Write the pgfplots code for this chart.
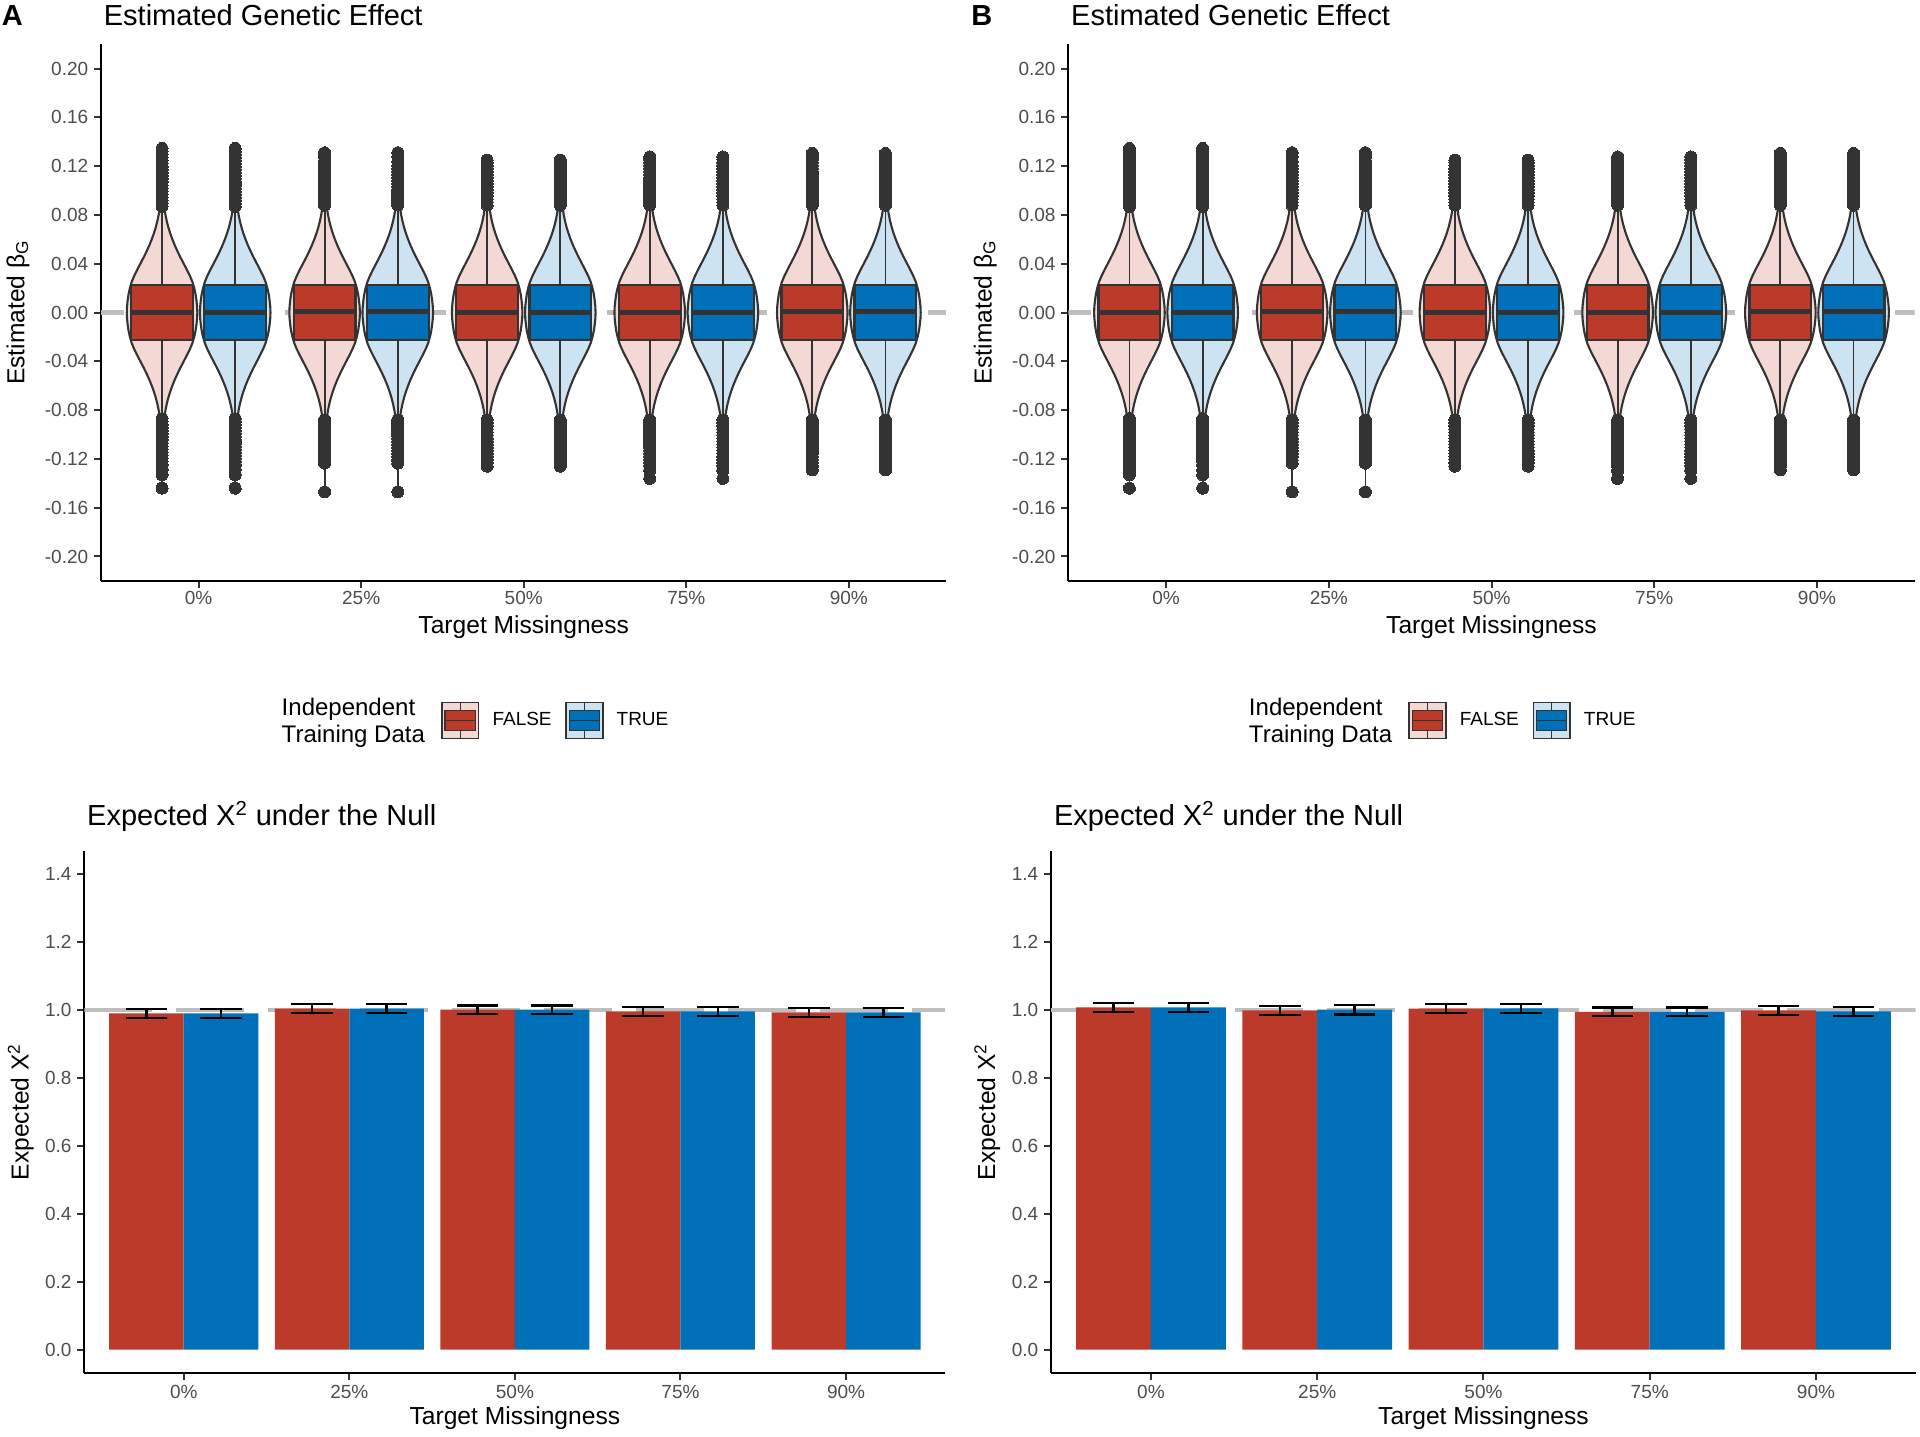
\documentclass[border=0pt]{standalone}
\usepackage{fontspec}
\setmainfont{Liberation Sans}
\usepackage{pgfplots}
\pgfplotsset{compat=1.18}
\usepackage{pgfplotstable}

\definecolor{cred}{RGB}{188,58,42}
\definecolor{cblue}{RGB}{0,112,184}
\definecolor{lred}{RGB}{243,216,212}
\definecolor{lblue}{RGB}{206,227,242}
\definecolor{c333}{RGB}{51,51,51}
\definecolor{c4d}{RGB}{77,77,77}
\definecolor{cgrey}{RGB}{190,190,190}

% violin outline (shared shape): y, signed relative half-width
\pgfplotstableread{
y w
-0.125 0.000
-0.120 0.002
-0.115 0.005
-0.110 0.008
-0.105 0.013
-0.100 0.020
-0.095 0.031
-0.090 0.047
-0.085 0.069
-0.080 0.097
-0.075 0.133
-0.070 0.177
-0.065 0.230
-0.060 0.292
-0.055 0.362
-0.050 0.440
-0.045 0.525
-0.040 0.615
-0.035 0.705
-0.030 0.790
-0.025 0.862
-0.020 0.912
-0.015 0.950
-0.010 0.975
-0.005 0.993
0.000 1.000
0.005 0.993
0.010 0.975
0.015 0.950
0.020 0.912
0.025 0.862
0.030 0.790
0.035 0.705
0.040 0.615
0.045 0.525
0.050 0.440
0.055 0.362
0.060 0.292
0.065 0.230
0.070 0.177
0.075 0.133
0.080 0.097
0.085 0.069
0.090 0.047
0.095 0.031
0.100 0.020
0.105 0.013
0.110 0.008
0.115 0.005
0.120 0.002
0.125 0.000
0.120 -0.002
0.115 -0.005
0.110 -0.008
0.105 -0.013
0.100 -0.020
0.095 -0.031
0.090 -0.047
0.085 -0.069
0.080 -0.097
0.075 -0.133
0.070 -0.177
0.065 -0.230
0.060 -0.292
0.055 -0.362
0.050 -0.440
0.045 -0.525
0.040 -0.615
0.035 -0.705
0.030 -0.790
0.025 -0.862
0.020 -0.912
0.015 -0.950
0.010 -0.975
0.005 -0.993
0.000 -1.000
-0.005 -0.993
-0.010 -0.975
-0.015 -0.950
-0.020 -0.912
-0.025 -0.862
-0.030 -0.790
-0.035 -0.705
-0.040 -0.615
-0.045 -0.525
-0.050 -0.440
-0.055 -0.362
-0.060 -0.292
-0.065 -0.230
-0.070 -0.177
-0.075 -0.133
-0.080 -0.097
-0.085 -0.069
-0.090 -0.047
-0.095 -0.031
-0.100 -0.020
-0.105 -0.013
-0.110 -0.008
-0.115 -0.005
-0.120 -0.002
-0.125 0.000
}\violin

% box outline: relative x, y (quartiles)
\pgfplotstableread{
dx y
-1 -0.0225
1 -0.0225
1 0.0225
-1 0.0225
-1 -0.0225
}\boxtab
\pgfplotstableread{
dx y
-1 0
1 0
}\medtab

% outliers per group
\pgfplotstableread{
y
0.0870
0.0895
0.0920
0.0945
0.0970
0.0995
0.1020
0.1045
0.1070
0.1095
0.1120
0.1145
0.1170
0.1195
0.1220
0.1245
0.1270
0.1295
0.1320
0.1345
-0.0870
-0.0895
-0.0920
-0.0945
-0.0970
-0.0995
-0.1020
-0.1045
-0.1070
-0.1095
-0.1120
-0.1145
-0.1170
-0.1195
-0.1220
-0.1250
-0.1290
-0.1330
-0.1440
}\outa
\pgfplotstableread{
y
0.0880
0.0905
0.0930
0.0955
0.0980
0.1005
0.1030
0.1055
0.1080
0.1105
0.1130
0.1155
0.1180
0.1205
0.1240
0.1280
0.1310
-0.0880
-0.0905
-0.0930
-0.0955
-0.0980
-0.1005
-0.1030
-0.1055
-0.1080
-0.1105
-0.1130
-0.1155
-0.1180
-0.1210
-0.1235
-0.1470
}\outb
\pgfplotstableread{
y
0.0880
0.0905
0.0930
0.0955
0.0980
0.1005
0.1030
0.1055
0.1080
0.1105
0.1130
0.1155
0.1180
0.1205
0.1230
0.1250
-0.0880
-0.0905
-0.0930
-0.0955
-0.0980
-0.1005
-0.1030
-0.1055
-0.1080
-0.1105
-0.1130
-0.1155
-0.1180
-0.1205
-0.1230
-0.1260
}\outc
\pgfplotstableread{
y
0.0880
0.0905
0.0930
0.0955
0.0980
0.1005
0.1030
0.1055
0.1080
0.1105
0.1130
0.1155
0.1180
0.1205
0.1230
0.1255
0.1275
-0.0880
-0.0905
-0.0930
-0.0955
-0.0980
-0.1005
-0.1030
-0.1055
-0.1080
-0.1105
-0.1130
-0.1155
-0.1180
-0.1205
-0.1230
-0.1255
-0.1295
-0.1360
}\outd
\pgfplotstableread{
y
0.0880
0.0905
0.0930
0.0955
0.0980
0.1005
0.1030
0.1055
0.1080
0.1105
0.1130
0.1155
0.1180
0.1205
0.1230
0.1255
0.1280
0.1305
-0.0880
-0.0905
-0.0930
-0.0955
-0.0980
-0.1005
-0.1030
-0.1055
-0.1080
-0.1105
-0.1130
-0.1155
-0.1180
-0.1205
-0.1230
-0.1255
-0.1290
}\oute

% one violin+box: #1 x, #2 light fill, #3 box fill, #4 outlier table, #5 min, #6 max, #7 median
\newcommand{\onevio}[7]{%
 \addplot[forget plot, fill=#2, draw=c333, line width=1.05pt] table[x expr={#1+0.217*\thisrow{w}}, y=y] {\violin};
 \addplot[forget plot, draw=c333, line width=0.9pt] coordinates {(#1,#5) (#1,#6)};
 \addplot[forget plot, only marks, mark=*, mark size=3pt, mark options={fill=c333, draw=c333, line width=0pt}] table[x expr={#1}, y=y] {#4};
 \addplot[forget plot, fill=#3, draw=c333, line width=1.1pt] table[x expr={#1+0.19*\thisrow{dx}}, y=y] {\boxtab};
 \addplot[forget plot, draw=c333, line width=2.2pt] table[x expr={#1+0.19*\thisrow{dx}}, y expr={\thisrow{y}+#7}] {\medtab};
}
\newcommand{\violinpanel}{%
 \addplot[forget plot, cgrey, line width=2.3pt, dash pattern=on 80.4pt off 80.4pt, dash phase=68.9pt] coordinates {(0.4,0) (5.6,0)};
 \onevio{0.775}{lred}{cred}{\outa}{-0.144}{0.1345}{0}
 \onevio{1.225}{lblue}{cblue}{\outa}{-0.144}{0.1345}{0}
 \onevio{1.775}{lred}{cred}{\outb}{-0.147}{0.131}{0.0008}
 \onevio{2.225}{lblue}{cblue}{\outb}{-0.147}{0.131}{0.0008}
 \onevio{2.775}{lred}{cred}{\outc}{-0.126}{0.125}{0}
 \onevio{3.225}{lblue}{cblue}{\outc}{-0.126}{0.125}{0}
 \onevio{3.775}{lred}{cred}{\outd}{-0.136}{0.1275}{0}
 \onevio{4.225}{lblue}{cblue}{\outd}{-0.136}{0.1275}{0}
 \onevio{4.775}{lred}{cred}{\oute}{-0.129}{0.1305}{0.0008}
 \onevio{5.225}{lblue}{cblue}{\oute}{-0.129}{0.1305}{0.0008}
}
\newcommand{\legendstuff}{%
 \addlegendimage{empty legend}
 \addlegendentry{\raisebox{5.5pt}{\fontsize{12}{13.35}\selectfont\begin{tabular}{@{}l@{}}Independent\\Training Data\end{tabular}}}
 \addlegendimage{legend image code/.code={
   \path[draw=none, fill=none] (0pt,-9pt) rectangle (33.8pt,9pt);
   \draw[fill=lred, draw=c333, line width=0.75pt] (8.5pt,-9pt) rectangle (26.85pt,9pt);
   \draw[c333, line width=0.75pt] (17.675pt,-9pt) -- (17.675pt,9pt);
   \draw[fill=cred, draw=c333, line width=0.75pt] (10.15pt,-5pt) rectangle (25.2pt,5pt);
   \draw[c333, line width=0.9pt] (10.15pt,0pt) -- (25.2pt,0pt);
 }}
 \addlegendentry{FALSE}
 \addlegendimage{legend image code/.code={
   \path[draw=none, fill=none] (0pt,-9pt) rectangle (32.5pt,9pt);
   \draw[fill=lblue, draw=c333, line width=0.75pt] (7.2pt,-9pt) rectangle (25.55pt,9pt);
   \draw[c333, line width=0.75pt] (16.375pt,-9pt) -- (16.375pt,9pt);
   \draw[fill=cblue, draw=c333, line width=0.75pt] (8.85pt,-5pt) rectangle (23.9pt,5pt);
   \draw[c333, line width=0.9pt] (8.85pt,0pt) -- (23.9pt,0pt);
 }}
 \addlegendentry{TRUE}
}

\pgfplotsset{
 base/.style={
  scale only axis, anchor=south west,
  axis lines=left, axis line style={-, black, line width=1pt},
  tick align=outside, major tick length=3.5pt,
  tick style={c333, line width=1pt},
  xmin=0.4, xmax=5.6, xtick={1,2,3,4,5},
  xticklabels={0\%,25\%,50\%,75\%,90\%},
  ticklabel style={font=\fontsize{9.5}{11}\selectfont, text=c4d, inner sep=0pt},
  xticklabel style={anchor=base},
  yticklabel style={anchor=east, xshift=-2.75pt},
  title style={at={(axis description cs:0,1)}, anchor=base west, inner sep=0pt, xshift=1.2pt, font=\fontsize{14.5}{16}\selectfont},
  xlabel style={at={(axis description cs:0.5,0)}, anchor=base, inner sep=0pt, font=\fontsize{12.3}{14}\selectfont},
  ylabel style={anchor=base, inner sep=0pt, font=\fontsize{12.3}{14}\selectfont},
  xlabel={Target Missingness},
 },
 toppanel/.style={
  base, height=268.4pt,
  ymin=-0.22, ymax=0.22,
  ytick={-0.20,-0.16,-0.12,-0.08,-0.04,0,0.04,0.08,0.12,0.16,0.20},
  yticklabels={-0.20,-0.16,-0.12,-0.08,-0.04,0.00,0.04,0.08,0.12,0.16,0.20},
  xticklabel style={yshift=-8.35pt},
  title={Estimated Genetic Effect},
  title style={yshift=3.45pt},
  xlabel style={yshift=-26.1pt},
  ylabel={Estimated β\textsubscript{G}},
  ylabel style={at={(axis description cs:-0.0907,0.5)}},
  legend columns=3,
  legend style={draw=none, fill=none, inner sep=0pt, outer sep=0pt,
    column sep=0pt, row sep=0pt,
    nodes={inner sep=0pt, outer sep=0pt, anchor=west, font=\fontsize{9.5}{11}\selectfont}},
 },
 botpanel/.style={
  base, height=261.4pt,
  ymin=-0.07, ymax=1.47,
  ytick={0,0.2,0.4,0.6,0.8,1.0,1.2,1.4},
  yticklabels={0.0,0.2,0.4,0.6,0.8,1.0,1.2,1.4},
  xticklabel style={yshift=-9pt},
  title={Expected X\textsuperscript{2} under the Null},
  title style={yshift=6.5pt},
  xlabel style={yshift=-25.8pt},
  ylabel={Expected X\textsuperscript{2}},
  ylabel style={at={(axis description cs:-0.0648,0.5)}},
 },
 errstyle/.style={forget plot, draw=none,
  error bars/.cd, y dir=both, y explicit,
  error bar style={draw=black, line width=1.2pt},
  error mark options={rotate=90, mark size=10.4pt, line width=1.2pt, draw=black}},
}

\begin{document}
\begin{tikzpicture}
\path[use as bounding box] (0pt,0pt) rectangle (960pt,718pt);

% ---------------- Panel A top ----------------
\begin{axis}[toppanel, at={(50.55pt,427.55pt)}, width=422.65pt,
  legend style={at={(axis description cs:0.2137,-0.2599)}, anchor=west}]
 \legendstuff
 \violinpanel
\end{axis}

% ---------------- Panel B top ----------------
\begin{axis}[toppanel, at={(534.2pt,427.55pt)}, width=423.1pt,
  legend style={at={(axis description cs:0.2134,-0.2599)}, anchor=west}]
 \legendstuff
 \violinpanel
\end{axis}

% ---------------- Panel A bottom ----------------
\begin{axis}[botpanel, at={(42.2pt,31.35pt)}, width=430.5pt]
 \addplot[forget plot, cgrey, line width=2.1pt, dash pattern=on 34pt off 12pt] coordinates {(0.4,1) (5.6,1)};
 \addplot[forget plot, ybar, bar shift=0pt, bar width=0.45, fill=cred, draw=none]
   coordinates {(0.775,0.990) (1.775,1.004) (2.775,1.001) (3.775,0.996) (4.775,0.993)};
 \addplot[forget plot, ybar, bar shift=0pt, bar width=0.45, fill=cblue, draw=none]
   coordinates {(1.225,0.990) (2.225,1.004) (3.225,1.001) (4.225,0.996) (5.225,0.993)};
 \addplot[errstyle] coordinates {
   (0.775,0.990) +- (0,0.013) (1.775,1.004) +- (0,0.013) (2.775,1.001) +- (0,0.013)
   (3.775,0.996) +- (0,0.013) (4.775,0.993) +- (0,0.013)};
 \addplot[errstyle] coordinates {
   (1.225,0.990) +- (0,0.013) (2.225,1.004) +- (0,0.013) (3.225,1.001) +- (0,0.013)
   (4.225,0.996) +- (0,0.013) (5.225,0.993) +- (0,0.013)};
\end{axis}

% ---------------- Panel B bottom ----------------
\begin{axis}[botpanel, at={(525.6pt,31.35pt)}, width=432.25pt]
 \addplot[forget plot, cgrey, line width=2.1pt, dash pattern=on 34pt off 12pt] coordinates {(0.4,1) (5.6,1)};
 \addplot[forget plot, ybar, bar shift=0pt, bar width=0.45, fill=cred, draw=none]
   coordinates {(0.775,1.008) (1.775,0.999) (2.775,1.004) (3.775,0.995) (4.775,0.999)};
 \addplot[forget plot, ybar, bar shift=0pt, bar width=0.45, fill=cblue, draw=none]
   coordinates {(1.225,1.008) (2.225,1.001) (3.225,1.005) (4.225,0.995) (5.225,0.996)};
 \addplot[errstyle] coordinates {
   (0.775,1.008) +- (0,0.0135) (1.775,0.999) +- (0,0.0135) (2.775,1.004) +- (0,0.0135)
   (3.775,0.995) +- (0,0.013) (4.775,0.999) +- (0,0.013)};
 \addplot[errstyle] coordinates {
   (1.225,1.008) +- (0,0.0135) (2.225,1.001) +- (0,0.0135) (3.225,1.005) +- (0,0.0135)
   (4.225,0.995) +- (0,0.013) (5.225,0.996) +- (0,0.0135)};
\end{axis}

\node[anchor=base west, inner sep=0pt, font=\bfseries\fontsize{14.5}{17}\selectfont] at (0.8pt,705.4pt) {A};
\node[anchor=base west, inner sep=0pt, font=\bfseries\fontsize{14.5}{17}\selectfont] at (485.5pt,705.4pt) {B};
\end{tikzpicture}
\end{document}
